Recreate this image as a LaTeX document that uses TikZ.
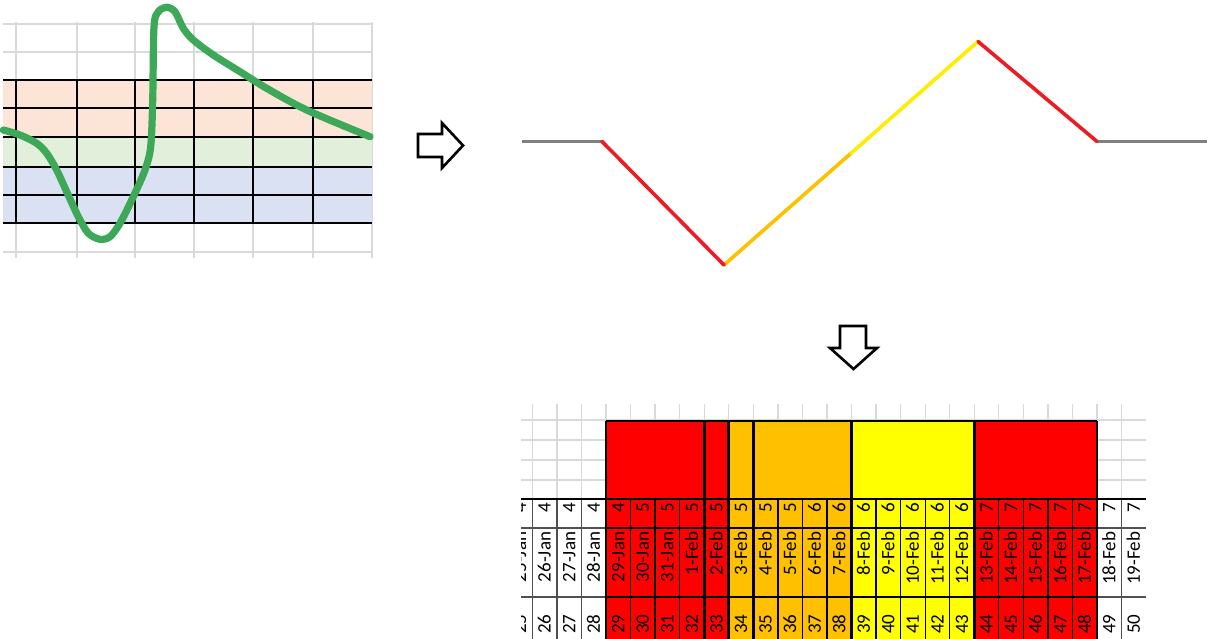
\documentclass[tikz,border=0pt]{standalone}
\usepackage{fontspec}
\newfontfamily\cellfont{Carlito}
\usetikzlibrary{calc}
\definecolor{xred}{RGB}{255,0,0}
\definecolor{xorange}{RGB}{255,192,0}
\definecolor{xyellow}{RGB}{255,255,0}
\definecolor{lred}{RGB}{237,28,36}
\definecolor{lorange}{RGB}{255,192,0}
\definecolor{lyellow}{RGB}{255,236,0}
\definecolor{lgray}{RGB}{128,128,128}
\definecolor{gridgray}{RGB}{217,217,217}
\definecolor{peach}{RGB}{252,228,214}
\definecolor{lgreen}{RGB}{226,239,218}
\definecolor{lblue}{RGB}{217,225,242}
\definecolor{curvegreen}{RGB}{60,168,88}
\definecolor{cellline}{RGB}{80,80,80}
\begin{document}
\begin{tikzpicture}[x=1pt,y=-1pt,
  celltext/.style={rotate=90,anchor=east,inner sep=0pt,
    font=\cellfont\fontsize{19}{19}\selectfont,text height=12.2pt,text depth=0pt},
  gridline/.style={draw=gridgray,line width=1.3pt},
  bandthick/.style={draw=black,line width=2.8pt},
  bandthin/.style={draw=black,line width=1.6pt},
  zig/.style={line width=3.6pt,line cap=round,line join=round},
  blockarrow/.style={draw=black,line width=2.6pt,line join=miter,fill=white},
  blockframe/.style={draw=black,line width=2.8pt},
  cellrule/.style={draw=cellline,line width=1.4pt},
  colrule/.style={draw=black,line width=1.3pt}]
\useasboundingbox (0,0) rectangle (1207,639);
\clip (0,0) rectangle (1207,639);

% ---------- top-left chart ----------
\foreach \y in {24,52,252} \draw[gridline] (3,\y) -- (372,\y);
\foreach \x in {16,77,135,194,253,313,372} \draw[gridline] (\x,22) -- (\x,258);
\fill[peach] (3,80) rectangle (372,137);
\fill[lgreen] (3,137) rectangle (372,167);
\fill[lblue] (3,167) rectangle (372,223);
\foreach \x in {16,77,135,194,253,313} \draw[black,line width=1.2pt] (\x,80) -- (\x,223);
\foreach \y in {108,195} \draw[bandthin] (3,\y) -- (372,\y);
\foreach \y in {80,137,167,223} \draw[bandthick] (3,\y) -- (372,\y);
\draw[curvegreen,line width=7.2pt,line cap=round,line join=round]
  plot[smooth,tension=0.5] coordinates {
  (3.3,130) (20,135) (36.7,143.3) (46.7,153.3) (56.7,170) (66.7,191.7)
  (78.3,216.7) (88.3,233.3) (100,239.3) (110,236.7) (120,223.3)
  (133.3,196.7) (145,170) (150.7,146.7) (152.7,100) (154,26.7)
  (158.3,11.7) (166.7,7.3) (175,11.7) (183.3,28.3) (193.3,40)
  (213.3,55) (240,71.7) (266.7,88.3) (306.7,110) (370,136.7)};

% ---------- right arrow ----------
\draw[blockarrow] (418,134) -- (442,134) -- (442,123) -- (463,145.5)
  -- (442,168) -- (442,157) -- (418,157) -- cycle;

% ---------- zigzag ----------
\coordinate (L0) at (522,141.5);
\coordinate (L1) at (602,141.5);
\coordinate (L2) at (724,265);
\coordinate (L4) at (978,41.5);
\coordinate (L3) at ($(L2)!0.5!(L4)$);
\coordinate (L5) at (1097,141.5);
\coordinate (L6) at (1207,141.5);
\draw[zig,lgray,line cap=butt] (L0) -- (L1);
\draw[zig,lgray,line cap=butt] (L5) -- (L6);
\draw[zig,lorange] (L2) -- (L3);
\draw[zig,lyellow] (L3) -- (L4);
\draw[zig,lred] (L1) -- (L2);
\draw[zig,lred] (L4) -- (L5);

% ---------- down arrow ----------
\draw[blockarrow] (840,326) -- (866,326) -- (866,348) -- (877,348) -- (853.5,369)
  -- (830,348) -- (840,348) -- cycle;

% ---------- table ----------
\begin{scope}
\clip (521,398) rectangle (1146,639);
\foreach \y in {420,440,460,480} \draw[gridline] (521,\y) -- (1146,\y);
\foreach \d in {26,...,50} {
  \pgfmathsetmacro\xl{606+(\d-29)*24.55}
  \draw[gridline] (\xl,404) -- (\xl,499);
}
% column fills
\foreach \d in {25,...,50} {
  \pgfmathsetmacro\xl{606+(\d-29)*24.55}
  \pgfmathsetmacro\xr{\xl+24.55}
  \def\cc{white}
  \ifnum\d>28 \def\cc{xred}\fi
  \ifnum\d>33 \def\cc{xorange}\fi
  \ifnum\d>38 \def\cc{xyellow}\fi
  \ifnum\d>43 \def\cc{xred}\fi
  \ifnum\d>48 \def\cc{white}\fi
  \fill[\cc] (\xl,499) rectangle (\xr,639);
}
% top blocks
\fill[xred] (606,421) rectangle (704.2,499);
\fill[xred] (704.2,421) rectangle (728.75,499);
\fill[xorange] (728.75,421) rectangle (753.3,499);
\fill[xorange] (753.3,421) rectangle (851.5,499);
\fill[xyellow] (851.5,421) rectangle (974.25,499);
\fill[xred] (974.25,421) rectangle (1097,499);
% row rules
\foreach \y in {528,597} {
  \draw[cellrule] (521,\y) -- (1146,\y);
  \draw[colrule] (606,\y) -- (1097,\y);
}
% column rules
\foreach \d in {26,27,28,49,50} {
  \pgfmathsetmacro\xl{606+(\d-29)*24.55}
  \draw[cellrule] (\xl,499) -- (\xl,639);
}
\foreach \d in {30,31,32,35,36,37,38,40,41,42,43,45,46,47,48} {
  \pgfmathsetmacro\xl{606+(\d-29)*24.55}
  \draw[colrule] (\xl,499) -- (\xl,639);
}
% thick frames
\draw[blockframe] (521,499) -- (1146,499);
\foreach \x in {606,704.2,728.75,753.3,851.5,974.25,1097}
  \draw[blockframe] (\x,421) -- (\x,639);
\draw[blockframe] (606,421) -- (1097,421);
% texts
\foreach \d in {25,...,50} {
  \pgfmathsetmacro\xc{606+(\d-29)*24.55+12.275}
  \def\wk{4}
  \ifnum\d>29 \def\wk{5}\fi
  \ifnum\d>36 \def\wk{6}\fi
  \ifnum\d>43 \def\wk{7}\fi
  \ifnum\d>31 \pgfmathtruncatemacro\dd{\d-31}\def\dt{\dd-Feb}\else\def\dt{\d-Jan}\fi
  \node[celltext] (wk\d) at (\xc,503) {\wk};
  \node[celltext] (dt\d) at (\xc,531.7) {\dt};
  \node[celltext] (dn\d) at (\xc,614.5) {\d};
}
\end{scope}
\end{tikzpicture}
\end{document}
